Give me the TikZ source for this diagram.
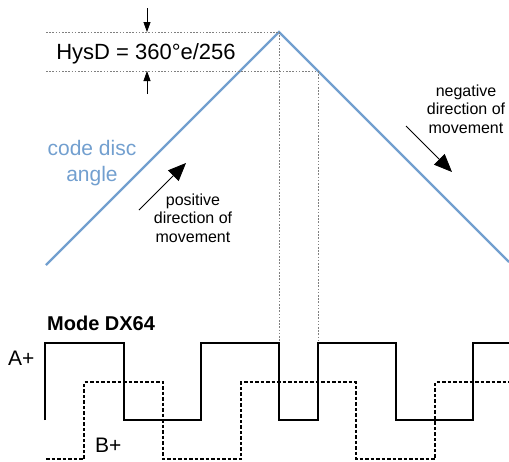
\documentclass[tikz,border=0pt]{standalone}
\usepackage{fontspec}
\setmainfont{Liberation Sans}
\usetikzlibrary{arrows.meta}
\definecolor{discblue}{RGB}{114,159,207}

\begin{document}
\begin{tikzpicture}[x=1pt,y=-1pt,
		guide/.style={gray,line width=0.8pt,dash pattern=on 1.6pt off 1.6pt},
		sig/.style={line width=2.2pt,line join=miter},
		sigb/.style={sig,dash pattern=on 3.5pt off 2pt},
		dirarrow/.style={line width=0.8pt,-{Triangle[length=18pt,width=15pt]}},
		hysarrow/.style={line width=0.8pt,-{Triangle[length=10pt,width=7pt]}}]
		\useasboundingbox (0,0) rectangle (509,461);
		
		% code disc angle
		\coordinate(low0)at(46,265);
		\coordinate(peak)at(279,32);
		\coordinate(low1)at(509,262);
		\coordinate(hys)at(318,71);
		\draw[discblue,line width=2.2pt](low0) -- (peak) -- (low1);
		
		\draw[guide](46,32) -- (peak);
		\draw[guide](46,71) -- (hys);
		\draw[guide](peak) -- (279,343);
		\draw[guide](hys) -- (318,343);
		
		\coordinate(ht0)at(147,8);
		\coordinate(ht1)at(147,32);
		\coordinate(hb0)at(147,94);
		\coordinate(hb1)at(147,71);
		\draw[hysarrow](ht0) -- (ht1);
		\draw[hysarrow](hb0) -- (hb1);
		\node[anchor=base,inner sep=0pt,font=\fontsize{22}{26}\selectfont](hysd)at(146,59) {HysD = 360°e/256};
		
		\node[discblue,align=center,inner sep=0pt,font=\fontsize{21}{26}\selectfont](angle)at(92,163) {code disc\\angle};
		
		\coordinate(p0)at(139,210);
		\coordinate(p1)at(186,163);
		\coordinate(n0)at(406,126);
		\coordinate(n1)at(452,172);
		\draw[dirarrow](p0) -- (p1);
		\draw[dirarrow](n0) -- (n1);
		\node[align=center,inner sep=0pt,font=\fontsize{16}{18.5}\selectfont](pos)at(193,218) {positive\\direction of\\movement};
		\node[align=center,inner sep=0pt,font=\fontsize{16}{18.5}\selectfont](neg)at(466,109) {negative\\direction of\\movement};
		
		% encoder signals
		\node[anchor=base west,inner sep=0pt,font=\bfseries\fontsize{20}{24}\selectfont](mode)at(47,330) {Mode DX64};
		\node[anchor=base west,inner sep=0pt,font=\fontsize{21}{25}\selectfont](A)at(8,365) {A+};
		\node[anchor=base west,inner sep=0pt,font=\fontsize{21}{25}\selectfont](B)at(95,452) {B+};
		
		\draw[sig](45,420) -- (45,343) -- (124,343) -- (124,420) -- (201,420) -- (201,343) -- (279,343) -- (279,420)
			-- (318,420) -- (318,343) -- (396,343) -- (396,420) -- (473,420) -- (473,343) -- (509,343);
		\draw[sigb](46,459) -- (84,459) -- (84,382) -- (163,382) -- (163,459) -- (241,459) -- (241,382) -- (356,382)
			-- (356,459) -- (435,459) -- (435,382) -- (509,382);
	\end{tikzpicture}
\end{document}
